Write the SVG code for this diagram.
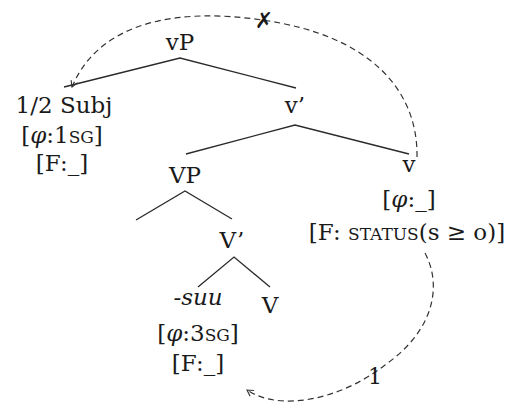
<svg xmlns="http://www.w3.org/2000/svg" width="515" height="408" viewBox="0 0 515 408">
<style>
text{font-family:"DejaVu Serif","Liberation Serif",serif;font-size:23px;fill:#1a1a1a;text-anchor:middle}
.sc{font-size:17px}
.it{font-style:italic}
.edge{stroke:#2a2a2a;stroke-width:1.3;fill:none}
.dash{stroke:#333;stroke-width:1.2;fill:none;stroke-dasharray:6 4}
.ah{stroke:#333;stroke-width:1.1;fill:none}
</style>
<rect width="515" height="408" fill="#fff"/>
<g id="connectors">
<path class="edge" d="M64,87 L180,58 L296,88"/>
<path class="edge" d="M186,154 L295,125 L409,154"/>
<path class="edge" d="M136,220 L185,191 L232,219"/>
<path class="edge" d="M198,287 L234,257 L270,287"/>
<path class="dash" d="M417,157 C418,90 370,35 262,20 C180,8 100,20 72,87"/>
<path class="ah" d="M77.6,82.8 L72,87 L71.1,80.1"/>
<path class="dash" d="M425,253 C442,285 435,330 385,365 C340,400 280,412 247,390"/>
<path class="ah" d="M254,390.5 L247,390 L250.1,396.3"/>
<text x="264" y="28" style="font-family:'DejaVu Sans',sans-serif;font-size:22px;font-weight:bold">✗</text>
<text x="375" y="384" style="font-size:22px">1</text>
</g>
<g id="vP"><text x="180" y="50">vP</text></g>
<g id="subj">
<text x="64" y="113">1/2 Subj</text>
<text x="62" y="143">[<tspan class="it">φ</tspan>:1<tspan class="sc">SG</tspan>]</text>
<text x="62" y="171">[F:_]</text>
</g>
<g id="vbar"><text x="295" y="113">v’</text></g>
<g id="VP"><text x="185" y="183">VP</text></g>
<g id="v">
<text x="409" y="172">v</text>
<text x="409" y="207">[<tspan class="it">φ</tspan>:_]</text>
<text x="407" y="240">[F: <tspan class="sc">STATUS</tspan>(s ≥ o)]</text>
</g>
<g id="Vbar"><text x="232" y="248">V’</text></g>
<g id="suu">
<text x="198" y="305" class="it">-suu</text>
<text x="198" y="341">[<tspan class="it">φ</tspan>:3<tspan class="sc">SG</tspan>]</text>
<text x="198" y="371">[F:_]</text>
</g>
<g id="V"><text x="270" y="313">V</text></g>
</svg>
